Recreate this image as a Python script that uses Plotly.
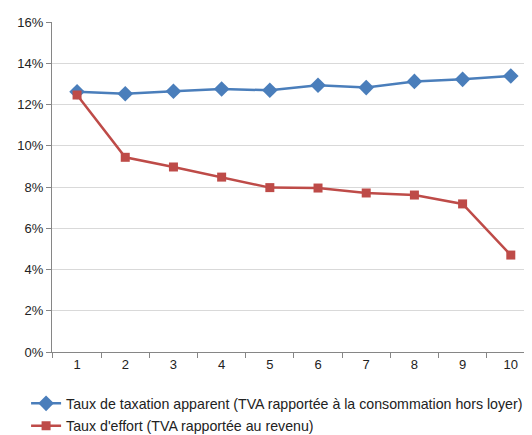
import plotly.graph_objects as go

deciles = ["1", "2", "3", "4", "5", "6", "7", "8", "9", "10"]
taux_taxation = [12.62, 12.52, 12.64, 12.75, 12.69, 12.93, 12.82, 13.12, 13.22, 13.38]
taux_effort = [12.46, 9.44, 8.97, 8.48, 7.97, 7.95, 7.71, 7.61, 7.18, 4.70]
y_ticks = [0, 2, 4, 6, 8, 10, 12, 14, 16]

font = "Liberation Sans"

fig = go.Figure()
fig.add_trace(go.Scatter(x=deciles, y=taux_taxation, mode="lines+markers",
                         name="Taux de taxation apparent (TVA rapportée à la consommation hors loyer)",
                         legendgroup="a",
                         line=dict(color="#4A7EBB", width=2.5),
                         marker=dict(symbol="diamond", size=12, color="#4A7EBB")))
fig.add_trace(go.Scatter(x=deciles, y=taux_effort, mode="lines+markers",
                         name="Taux d'effort (TVA rapportée au revenu)",
                         legendgroup="b",
                         line=dict(color="#BE4B48", width=2.5),
                         marker=dict(symbol="square", size=9, color="#BE4B48")))

# page body adds 8px margin, so the figure is 8px smaller than the window
fig.update_layout(
    width=524, height=427,
    margin=dict(l=44, r=0, t=14, b=83, autoexpand=False),
    paper_bgcolor="white", plot_bgcolor="white",
    font=dict(family=font, size=13, color="#222222"),
    showlegend=True,
    legend=dict(x=-0.054, y=-0.108, xanchor="left", yanchor="top",
                orientation="v", font=dict(size=14.2), itemwidth=30,
                tracegroupgap=1, bgcolor="rgba(0,0,0,0)"),
    xaxis=dict(type="category", range=[-0.52, 9.44], showgrid=False, automargin=False,
               showline=True, linecolor="#868686", linewidth=1,
               ticks="outside", tickson="boundaries", ticklen=5, tickcolor="#868686",
               tickfont=dict(size=13)),
    yaxis=dict(range=[0, 16], tickvals=y_ticks, ticktext=[f"{v}%" for v in y_ticks],
               showgrid=True, gridcolor="#D9D9D9", gridwidth=1, automargin=False,
               showline=True, linecolor="#868686", linewidth=1,
               ticks="outside", ticklen=5, tickcolor="#868686",
               zeroline=False, tickfont=dict(size=13)),
)

fig.write_html("out.html")
